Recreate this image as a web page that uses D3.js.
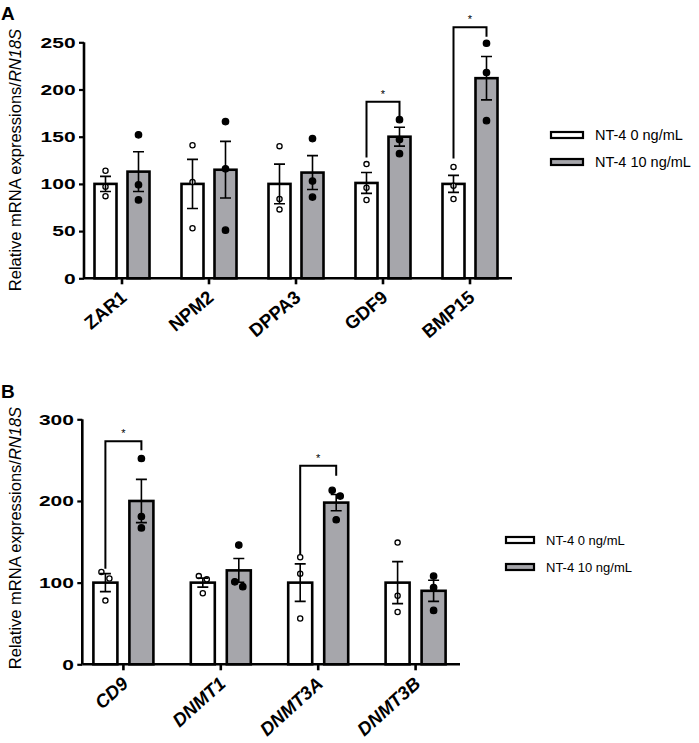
<!DOCTYPE html>
<html>
<head>
<meta charset="utf-8">
<script src="https://cdn.jsdelivr.net/npm/d3@7"></script>
<style>
  body { margin: 0; background: #fff; }
  svg { display: block; font-family: "Liberation Sans", Arial, sans-serif; }
</style>
</head>
<body>
<svg id="chart" width="699" height="743"></svg>
<script>
// ---- Panel A data ----
const catsA = ["ZAR1", "NPM2", "DPPA3", "GDF9", "BMP15"];
const meanA0 = [100, 100, 100, 101, 100];
const semA0 = [8, 26, 21, 11, 9];
const meanA10 = [113, 115, 112, 150, 212];
const semA10 = [21, 30, 18, 10, 23];
const ptsA0 = [[114, 97, 87], [141, 102, 53], [140, 84, 73], [121, 96, 83], [118, 98, 84]];
const ptsA10 = [[152, 99, 83], [166, 116, 51], [148, 103, 86], [168, 147, 132], [249, 218, 167]];
const ticksA = [0, 50, 100, 150, 200, 250];
// significance brackets: [category, top, left leg bottom, right leg bottom]
const sigA = [["GDF9", 187, 128, 170], ["BMP15", 266, 127, 256]];

// ---- Panel B data ----
const catsB = ["CD9", "DNMT1", "DNMT3A", "DNMT3B"];
const meanB0 = [100, 100, 100, 100];
const semB0 = [11, 5.5, 23, 25.7];
const meanB10 = [200, 115, 198, 90];
const semB10 = [26.5, 14.5, 10, 13];
const ptsB0 = [[113, 105, 78], [108, 104, 87], [131, 111, 56], [149, 84, 64]];
const ptsB10 = [[252, 181, 167], [146, 101, 95], [213, 206, 177], [108, 94, 66]];
const ticksB = [0, 100, 200, 300];
const sigB = [["CD9", 273, 117, 262], ["DNMT3A", 243, 134, 231]];

const legendLabels = ["NT-4 0 ng/mL", "NT-4 10 ng/mL"];
const fills = ["#ffffff", "#a6a6ab"];

const svg = d3.select("#chart");

function drawPanel(opt) {
  const g = svg.append("g");
  const y = d3.scaleLinear().domain([0, opt.yMax]).range([opt.y0, opt.yTop]);
  const x = d3.scaleBand().domain(opt.cats).range(opt.xRange).padding(0);
  const cx = c => x(c) + x.bandwidth() / 2;

  const series = [
    { mean: opt.mean0, sem: opt.sem0, pts: opt.pts0, off: -opt.off, fill: fills[0], open: true },
    { mean: opt.mean10, sem: opt.sem10, pts: opt.pts10, off: opt.off, fill: fills[1], open: false }
  ];

  series.forEach(s => {
    const rows = opt.cats.map((c, i) => ({ c, m: s.mean[i], e: s.sem[i], p: s.pts[i] }));
    const sg = g.append("g");

    // bars
    sg.selectAll("rect").data(rows).join("rect")
      .attr("x", d => cx(d.c) + s.off - opt.bw / 2)
      .attr("y", d => y(d.m))
      .attr("width", opt.bw)
      .attr("height", d => y(0) - y(d.m))
      .attr("fill", s.fill)
      .attr("stroke", "#000")
      .attr("stroke-width", 2.6);

    // points (shift sideways when two sit too close)
    rows.forEach(d => {
      const placed = [];
      d.p.forEach(v => {
        let dx = 0;
        const near = placed.filter(q => Math.abs(y(q.v) - y(v)) < 8);
        if (near.length) dx = near.length % 2 ? 4 : -4;
        if (near.length && near[0].dx === 0 && dx !== 0) near[0].dx = -dx;
        placed.push({ v, dx });
      });
      sg.append("g").selectAll("circle").data(placed).join("circle")
        .attr("cx", q => cx(d.c) + s.off + q.dx)
        .attr("cy", q => y(q.v))
        .attr("r", s.open ? 2.6 : 3.2)
        .attr("fill", s.open ? "#fff" : "#000")
        .attr("stroke", "#000")
        .attr("stroke-width", 1.3);
    });

    // error bars
    const eb = sg.append("g").attr("stroke", "#000").attr("stroke-width", 1.6).attr("fill", "none");
    eb.selectAll("path").data(rows).join("path")
      .attr("d", d => {
        const xc = cx(d.c) + s.off, w = 5.5;
        const t = y(d.m + d.e), b = y(d.m - d.e);
        return `M${xc},${t}V${b}M${xc - w},${t}H${xc + w}M${xc - w},${b}H${xc + w}`;
      });
  });

  // y axis
  const ya = g.append("g").attr("transform", `translate(${opt.axisX},0)`)
    .call(d3.axisLeft(y).tickValues(opt.ticks).tickSize(5).tickPadding(4));
  ya.select(".domain").attr("stroke-width", 2.6).attr("d", `M0,${y(0)}V${y(opt.yMax)}`);
  ya.selectAll(".tick line").attr("stroke-width", 2.2);
  ya.selectAll(".tick text")
    .attr("font-size", 15).attr("font-weight", "bold").attr("fill", "#000")
    .attr("transform", "scale(1.4,1)").attr("x", -6);

  // x axis
  const xa = g.append("g").attr("transform", `translate(0,${y(0)})`)
    .call(d3.axisBottom(x).tickSize(6).tickFormat(""));
  xa.select(".domain").attr("stroke-width", 2.6).attr("d", `M${opt.axisX},0H${opt.xEnd}`);
  xa.selectAll(".tick line").attr("stroke-width", 2.6);
  xa.selectAll(".tick").append("text")
    .attr("fill", "#000")
    .attr("font-size", 18.5)
    .attr("font-weight", "bold")
    .attr("font-style", opt.italic ? "italic" : "normal")
    .attr("text-anchor", "end")
    .attr("transform", `translate(6,21) rotate(${opt.rot})`)
    .text(d => d);

  // y label
  const lab = g.append("text")
    .attr("transform", `translate(${opt.labelX},${opt.labelY}) rotate(-90)`)
    .attr("text-anchor", "middle")
    .attr("font-size", 16.5)
    .attr("fill", "#000");
  lab.append("tspan").text("Relative mRNA expressions/");
  lab.append("tspan").attr("font-style", "italic").text("RN18S");

  // panel letter
  g.append("text").attr("x", 1).attr("y", opt.letterY)
    .attr("font-size", 19).attr("font-weight", "bold").text(opt.letter);

  // significance brackets
  opt.sig.forEach(([c, top, lb, rb]) => {
    const x1 = cx(c) - opt.off, x2 = cx(c) + opt.off;
    g.append("path")
      .attr("d", `M${x1},${y(lb)}V${y(top)}H${x2}V${y(rb)}`)
      .attr("fill", "none").attr("stroke", "#000").attr("stroke-width", 2);
    g.append("text").attr("x", cx(c)).attr("y", y(top) - 4)
      .attr("text-anchor", "middle").attr("font-size", 11).attr("fill", "#000").text("*");
  });

  // legend
  const lg = g.append("g").attr("transform", `translate(${opt.legX},${opt.legY})`);
  legendLabels.forEach((t, i) => {
    lg.append("rect").attr("x", 0).attr("y", i * opt.legStep - 3)
      .attr("width", opt.legW).attr("height", 6)
      .attr("fill", fills[i]).attr("stroke", "#000").attr("stroke-width", 2.2);
    lg.append("text").attr("x", opt.legW + 12).attr("y", i * opt.legStep)
      .attr("dy", "0.35em").attr("font-size", opt.legFont).attr("fill", "#000").text(t);
  });
}

drawPanel({
  cats: catsA, mean0: meanA0, sem0: semA0, mean10: meanA10, sem10: semA10,
  pts0: ptsA0, pts10: ptsA10, ticks: ticksA, sig: sigA, yMax: 250,
  y0: 278.3, yTop: 42.3, xRange: [78.5, 513.5], axisX: 84, xEnd: 512,
  off: 16.5, bw: 22, rot: -40, italic: false,
  labelX: 21, labelY: 160, letter: "A", letterY: 20,
  legX: 551, legY: 135, legStep: 27, legW: 32, legFont: 14.5
});

drawPanel({
  cats: catsB, mean0: meanB0, sem0: semB0, mean10: meanB10, sem10: semB10,
  pts0: ptsB0, pts10: ptsB10, ticks: ticksB, sig: sigB, yMax: 300,
  y0: 664.3, yTop: 419.3, xRange: [74.7, 464.3], axisX: 82.3, xEnd: 460,
  off: 18, bw: 24, rot: -42, italic: true,
  labelX: 21, labelY: 538, letter: "B", letterY: 398,
  legX: 506, legY: 540, legStep: 27, legW: 28, legFont: 13
});
</script>
</body>
</html>
